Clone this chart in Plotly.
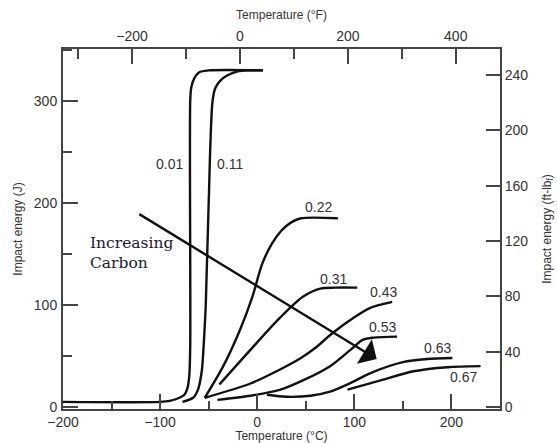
import plotly.graph_objects as go

# ---- data (temperature in °C, impact energy in J) ----
carbon = ["0.01", "0.11", "0.22", "0.31", "0.43", "0.53", "0.63", "0.67"]

t001 = [-200, -100, -90, -80, -75, -72, -70, -69, -69, -68, -65, -60, -50, 6]
e001 = [5, 5, 6, 9, 12, 18, 30, 60, 300, 313, 322, 328, 330, 330]

t011 = [-77, -66, -61, -57, -55, -53, -50, -46, -43, -38, -31, -20, -10, 6]
e011 = [5, 9, 17, 36, 63, 100, 200, 300, 313, 320, 325, 329, 330, 330]

t022 = [-54, -35, -18, -5, 5, 15, 25, 35, 45, 83]
e022 = [9, 40, 75, 108, 140, 160, 173, 181, 185, 185]

t031 = [-39, -7, 24, 47, 65, 80, 103]
e031 = [22, 56, 88, 108, 116, 117, 117]

t043 = [-54, -7, 24, 45, 60, 77, 100, 116, 130, 139]
e043 = [9, 23, 37, 48, 58, 72, 88, 97, 101, 103]

t053 = [-41, -7, 24, 47, 75, 96, 109, 120, 144]
e053 = [7, 11, 17, 26, 40, 56, 66, 68, 69]

t063 = [10, 30, 55, 75, 95, 116, 150, 175, 201]
e063 = [12, 10, 11, 15, 23, 33, 44, 47, 48]

t067 = [93, 127, 161, 196, 230]
e067 = [17, 26, 35, 39, 40]

temps = [t001, t011, t022, t031, t043, t053, t063, t067]
energies = [e001, e011, e022, e031, e043, e053, e063, e067]

# label anchor positions (°C, J)
label_t = [-90, -28, 63, 79, 130, 129, 186, 212]
label_e = [238, 238, 196, 125, 113, 78, 58, 29]

# arrow (°C, J)
arrow_start = (-123, 190)
arrow_end = (123, 47)

x_range = [-200, 250]
y_range = [-2, 351]
J_TO_FTLB = 0.737562

def c_to_f(c):
    return c * 1.8 + 32

ink = "#111111"
axis_col = "#444444"
txt_col = "#333333"
sans = "Liberation Sans, Arial, sans-serif"

fig = go.Figure()
for t, e in zip(temps, energies):
    fig.add_trace(go.Scatter(
        x=t, y=e, mode="lines",
        line=dict(color=ink, width=2.4, shape="spline", smoothing=0.8),
        hoverinfo="skip", showlegend=False))

# invisible trace to activate secondary axes
fig.add_trace(go.Scatter(
    x=[c_to_f(x_range[0]), c_to_f(x_range[1])],
    y=[y_range[0] * J_TO_FTLB, y_range[1] * J_TO_FTLB],
    xaxis="x2", yaxis="y2", mode="markers",
    marker=dict(opacity=0), hoverinfo="skip", showlegend=False))

for lab, lx, ly in zip(carbon, label_t, label_e):
    fig.add_annotation(x=lx, y=ly, text=lab, showarrow=False,
                       font=dict(family=sans, size=14, color=txt_col))

fig.add_annotation(
    x=arrow_end[0], y=arrow_end[1], ax=arrow_start[0], ay=arrow_start[1],
    xref="x", yref="y", axref="x", ayref="y",
    showarrow=True, arrowhead=1, arrowsize=2, arrowwidth=2.4,
    arrowcolor=ink, text="")

fig.add_annotation(
    x=-174, y=151, xref="x", yref="y", text="Increasing<br>Carbon",
    showarrow=False, xanchor="left", align="left",
    font=dict(family="DejaVu Serif, serif", size=15.5, color="#1a1a2a"))

common = dict(showgrid=False, zeroline=False, showline=True,
              linecolor=axis_col, linewidth=2, ticks="inside",
              tickcolor=axis_col, tickwidth=1.5,
              tickfont=dict(family=sans, size=14, color=txt_col))

fig.update_layout(
    width=557, height=443,
    margin=dict(l=63, r=57, t=49, b=34),
    paper_bgcolor="white", plot_bgcolor="white",
    xaxis=dict(range=x_range, tick0=0, dtick=100, ticklen=15,
               ticklabelstandoff=-1,
               minor=dict(dtick=50, ticklen=8, ticks="inside",
                          tickcolor=axis_col, tickwidth=1.5),
               title=dict(text="Temperature (°C)", standoff=7,
                          font=dict(family=sans, size=12, color=txt_col)),
               automargin=False, **common),
    xaxis2=dict(range=[c_to_f(x_range[0]), c_to_f(x_range[1])],
                overlaying="x", side="top", anchor="y",
                tick0=0, dtick=200, ticklen=15,
                minor=dict(dtick=100, ticklen=10, ticks="inside",
                           tickcolor=axis_col, tickwidth=1.5),
                title=dict(text="Temperature (°F)", standoff=6,
                           font=dict(family=sans, size=12, color=txt_col)),
                automargin=False, **common),
    yaxis=dict(range=y_range, tick0=0, dtick=100, ticklen=15,
               ticklabelstandoff=1,
               minor=dict(dtick=50, ticklen=9, ticks="inside",
                          tickcolor=axis_col, tickwidth=1.5),
               title=dict(text="Impact energy (J)", standoff=9,
                          font=dict(family=sans, size=12, color=txt_col)),
               automargin=False, **common),
    yaxis2=dict(range=[y_range[0] * J_TO_FTLB, y_range[1] * J_TO_FTLB],
                overlaying="y", side="right", anchor="x",
                tick0=0, dtick=40, ticklen=14,
                title=dict(text="Impact energy (ft-lb<sub>f</sub>)", standoff=15,
                           font=dict(family=sans, size=12, color=txt_col)),
                automargin=False, **common),
)

fig.write_html("out.html",
               config={"displayModeBar": False},
               post_script="document.body.style.margin='0';")
